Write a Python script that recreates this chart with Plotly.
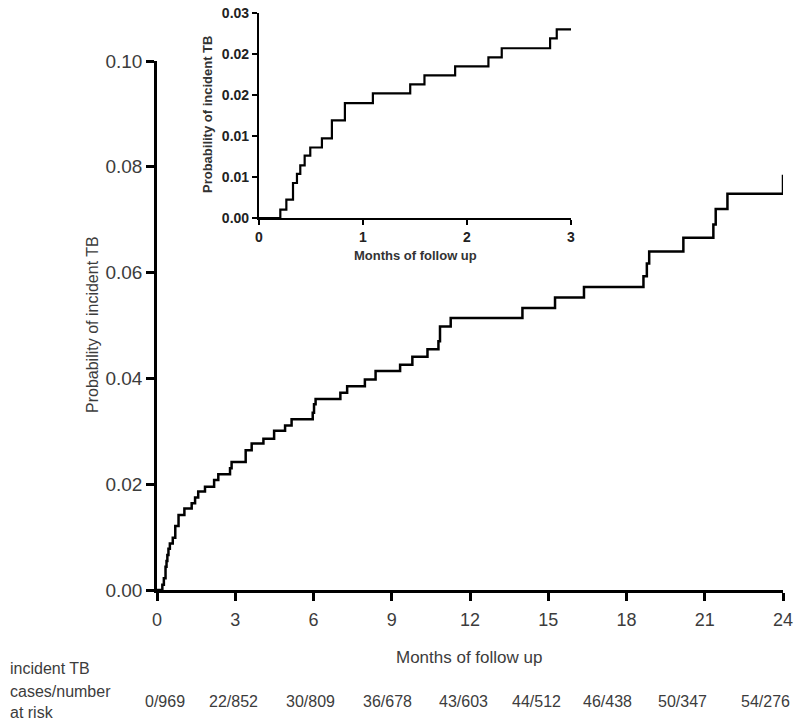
import plotly.graph_objects as go

# ---- main curve (cumulative probability of incident TB, months 0-24) ----
months = [0, 0.205, 0.263, 0.327, 0.365, 0.397, 0.439, 0.493, 0.605, 0.701, 0.826,
          1.05, 1.33, 1.46, 1.58, 1.84, 2.19, 2.35, 2.80, 2.86, 3.40, 3.63, 4.08,
          4.49, 4.91, 5.16, 5.97, 6.02, 6.08, 7.03, 7.29, 7.97, 8.38, 9.32, 9.79,
          10.37, 10.79, 10.85, 11.26, 14.01, 15.26, 16.37, 18.65, 18.78, 18.87,
          20.18, 21.33, 21.42, 21.87, 24.0]
probability = [0, 0.0010, 0.0022, 0.0044, 0.0055, 0.0066, 0.0078, 0.0088, 0.0099,
               0.0121, 0.0142, 0.0154, 0.0164, 0.0175, 0.0186, 0.0195, 0.0208,
               0.0219, 0.0230, 0.0242, 0.0264, 0.0277, 0.0286, 0.0301, 0.0311,
               0.0323, 0.0335, 0.0351, 0.0361, 0.0373, 0.0385, 0.0398, 0.0414,
               0.0426, 0.0441, 0.0455, 0.0470, 0.0498, 0.0514, 0.0533, 0.0553,
               0.0573, 0.0593, 0.0617, 0.0640, 0.0666, 0.0691, 0.0720, 0.0749,
               0.0785]

# ---- inset curve (months 0-3) ----
inset_months = [0, 0.205, 0.263, 0.327, 0.365, 0.397, 0.439, 0.493, 0.605, 0.701,
                0.826, 1.095, 1.454, 1.591, 1.886, 2.206, 2.334, 2.799, 2.863, 3.0]
inset_probability = [0, 0.00102, 0.00224, 0.00427, 0.00537, 0.00642, 0.0076,
                     0.0086, 0.0097, 0.0119, 0.0140, 0.0152, 0.0163, 0.0174,
                     0.0185, 0.0196, 0.0207, 0.0219, 0.0230, 0.0230]

# ---- ticks ----
main_x_ticks = [0, 3, 6, 9, 12, 15, 18, 21, 24]
main_y_ticks = [0, 0.02, 0.04, 0.06, 0.08, 0.10]
inset_x_ticks = [0, 1, 2, 3]
inset_y_ticks = [0, 0.005, 0.010, 0.015, 0.020, 0.025]
inset_y_ticktext = ["0.00", "0.01", "0.01", "0.02", "0.02", "0.03"]

# ---- risk table ----
risk_labels = ["0/969", "22/852", "30/809", "36/678", "43/603",
               "44/512", "46/438", "50/347", "54/276"]
risk_header = ["incident TB", "cases/number", "at risk"]

# layout constants (pixels)
W, H = 800, 726
PL, PR, PT, PB = 157, 17, 13, 136
plot_w = W - PL - PR
plot_h = H - PT - PB
main_top_px = 61
inset_left_px, inset_right_px = 259, 571
inset_top_px, inset_bottom_px = 13, 218
risk_x_px = [165, 233, 310, 387, 463, 536, 607, 682, 765]

def px_x(px):
    return (px - PL) / plot_w

def px_y(py):
    return (H - PB - py) / plot_h

TXT = "#3c3c3c"
FONT = "Liberation Sans, Arial, sans-serif"

fig = go.Figure()
fig.add_trace(go.Scatter(x=months, y=probability, mode="lines",
                         line=dict(color="black", width=2.5, shape="hv"),
                         xaxis="x", yaxis="y", showlegend=False))
fig.add_trace(go.Scatter(x=inset_months, y=inset_probability, mode="lines",
                         line=dict(color="black", width=2.2, shape="hv"),
                         xaxis="x2", yaxis="y2", showlegend=False))

fig.update_layout(
    width=W, height=H,
    margin=dict(l=PL, r=PR, t=PT, b=PB, autoexpand=False),
    paper_bgcolor="white", plot_bgcolor="white",
    font=dict(family=FONT, color=TXT),
    xaxis=dict(domain=[0, 1], range=[0, 24], tickvals=main_x_ticks,
               showline=True, linecolor="black", linewidth=2.5,
               ticks="outside", ticklen=8, tickwidth=2.5, tickcolor="black",
               showgrid=False, zeroline=False, automargin=False,
               ticklabelstandoff=4,
               tickfont=dict(size=18, color=TXT, family=FONT), anchor="y"),
    yaxis=dict(domain=[0, px_y(main_top_px)], range=[0, 0.10],
               tickvals=main_y_ticks, tickformat=".2f",
               showline=True, linecolor="black", linewidth=2.5,
               ticks="outside", ticklen=8, tickwidth=2.5, tickcolor="black",
               showgrid=False, zeroline=False, automargin=False,
               tickfont=dict(size=19, color=TXT, family=FONT), anchor="x"),
    xaxis2=dict(domain=[px_x(inset_left_px), px_x(inset_right_px)], range=[0, 3],
                tickvals=inset_x_ticks, showline=True, linecolor="black",
                linewidth=2.2, ticks="outside", ticklen=5, tickwidth=2.2,
                tickcolor="black", showgrid=False, zeroline=False, automargin=False,
                tickfont=dict(size=14, color="#222", family=FONT, weight="bold"),
                anchor="y2"),
    yaxis2=dict(domain=[px_y(inset_bottom_px), px_y(inset_top_px)],
                range=[0, 0.025], tickvals=inset_y_ticks,
                ticktext=inset_y_ticktext, showline=True, linecolor="black",
                linewidth=2.2, ticks="outside", ticklen=5, tickwidth=2.2,
                tickcolor="black", showgrid=False, zeroline=False, automargin=False,
                tickfont=dict(size=14, color="#222", family=FONT, weight="bold"),
                anchor="x2"),
)

ann = []
# main axis titles
ann.append(dict(text="Months of follow up", xref="paper", yref="paper",
                x=px_x(469), y=px_y(657), showarrow=False,
                font=dict(size=17, color=TXT), xanchor="center", yanchor="middle"))
ann.append(dict(text="Probability of incident TB", xref="paper", yref="paper",
                x=px_x(92), y=px_y(325), showarrow=False, textangle=-90,
                font=dict(size=16, color=TXT), xanchor="center", yanchor="middle"))
# inset axis titles
ann.append(dict(text="Months of follow up", xref="paper", yref="paper",
                x=px_x(415), y=px_y(255), showarrow=False,
                font=dict(size=13, color="#333", weight="bold"),
                xanchor="center", yanchor="middle"))
ann.append(dict(text="Probability of incident TB", xref="paper", yref="paper",
                x=px_x(208), y=px_y(115), showarrow=False, textangle=-90,
                font=dict(size=13, color="#333", weight="bold"),
                xanchor="center", yanchor="middle"))
# risk table
for txt, py in zip(risk_header, [668, 691, 712]):
    ann.append(dict(text=txt, xref="paper", yref="paper", x=px_x(8), y=px_y(py),
                    showarrow=False, font=dict(size=16, color=TXT),
                    xanchor="left", yanchor="middle"))
for txt, px in zip(risk_labels, risk_x_px):
    ann.append(dict(text=txt, xref="paper", yref="paper", x=px_x(px), y=px_y(701),
                    showarrow=False, font=dict(size=16, color=TXT),
                    xanchor="center", yanchor="middle"))
fig.update_layout(annotations=ann)

fig.write_html("out.html", config={"displayModeBar": False},
               post_script="document.body.style.margin='0';document.body.style.overflow='hidden';")
